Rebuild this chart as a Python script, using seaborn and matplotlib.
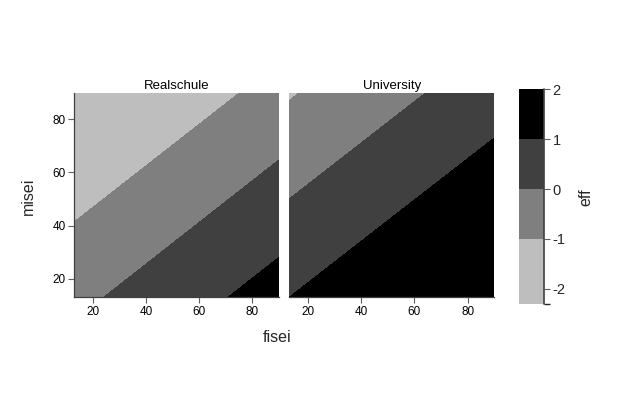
import numpy as np
import pandas as pd
import matplotlib
matplotlib.use("Agg")
import matplotlib.pyplot as plt
from matplotlib.colors import ListedColormap, BoundaryNorm
from matplotlib.cm import ScalarMappable
import seaborn as sns

# ---- data (effect surface at the panel corners) ----
panels = ["Realschule", "University"]
fisei = [13, 90]
misei = [13, 90]
# eff[misei_index][fisei_index]
eff_realschule = [[-0.24, 1.41],
                  [-2.31, -0.69]]
eff_university = [[1.00, 2.62],
                  [-1.08, 0.54]]
eff_levels = [-2.31, -1, 0, 1, 2]
band_colors = ["#BEBEBE", "#7F7F7F", "#404040", "#000000"]
axis_ticks = [20, 40, 60, 80]
cbar_ticks = [-2, -1, 0, 1, 2]

sns.set_theme(style="white")
plt.rcParams["font.family"] = ["Liberation Sans", "DejaVu Sans"]

fig = plt.figure(figsize=(6.3, 4.2), dpi=100)
W, H = 630, 420

def frac(l, t, r, b):
    return [l / W, (H - b) / H, (r - l) / W, (b - t) / H]

ax1 = fig.add_axes(frac(74, 92.7, 279, 297.3))
ax2 = fig.add_axes(frac(289.3, 92.7, 494.3, 297.3))
cax = fig.add_axes(frac(519, 89.3, 544.3, 304.3))

cmap = ListedColormap(band_colors)
fill_levels = [-3.0, -1, 0, 1, 3.0]

F, M = np.meshgrid(fisei, misei)
for ax, name, z in [(ax1, panels[0], eff_realschule), (ax2, panels[1], eff_university)]:
    ax.contourf(F, M, np.array(z), levels=fill_levels, colors=band_colors, antialiased=False)
    ax.set_xlim(fisei[0], fisei[1])
    ax.set_ylim(misei[0], misei[1])
    ax.set_title(name, fontsize=9.5, pad=3, color="black")
    ax.set_xticks(axis_ticks)
    ax.set_yticks(axis_ticks)
    ax.tick_params(axis="both", length=4, width=0.8, color="#606060",
                   labelsize=8.5, pad=2, labelcolor="black",
                   bottom=True, left=True)
    for s in ["top", "right"]:
        ax.spines[s].set_visible(False)
    for s in ["left", "bottom"]:
        ax.spines[s].set_color("#404040")
        ax.spines[s].set_linewidth(0.9)

ax2.spines["left"].set_visible(False)
ax2.set_yticklabels([])
ax2.tick_params(axis="y", left=False)

norm = BoundaryNorm(eff_levels, cmap.N)
sm = ScalarMappable(norm=norm, cmap=cmap)
cb = fig.colorbar(sm, cax=cax, boundaries=eff_levels, ticks=cbar_ticks,
                  spacing="proportional")
cb.outline.set_visible(False)
cax.plot([1, 1], [0, 1], transform=cax.transAxes, color="#404040", lw=1.2, clip_on=False)
cax.tick_params(axis="y", length=4, width=0.8, color="#606060", labelsize=10.5, pad=2)
cax.set_yticklabels([str(t) for t in cbar_ticks])

fig.text(28 / W, 1 - 196 / H, "misei", rotation=90, ha="center", va="center", fontsize=11.5)
fig.text(277 / W, 1 - 337 / H, "fisei", ha="center", va="center", fontsize=11.5)
fig.text(586 / W, 1 - 197 / H, "eff", rotation=90, ha="center", va="center", fontsize=11.5)

fig.savefig("out.png", dpi=100)
